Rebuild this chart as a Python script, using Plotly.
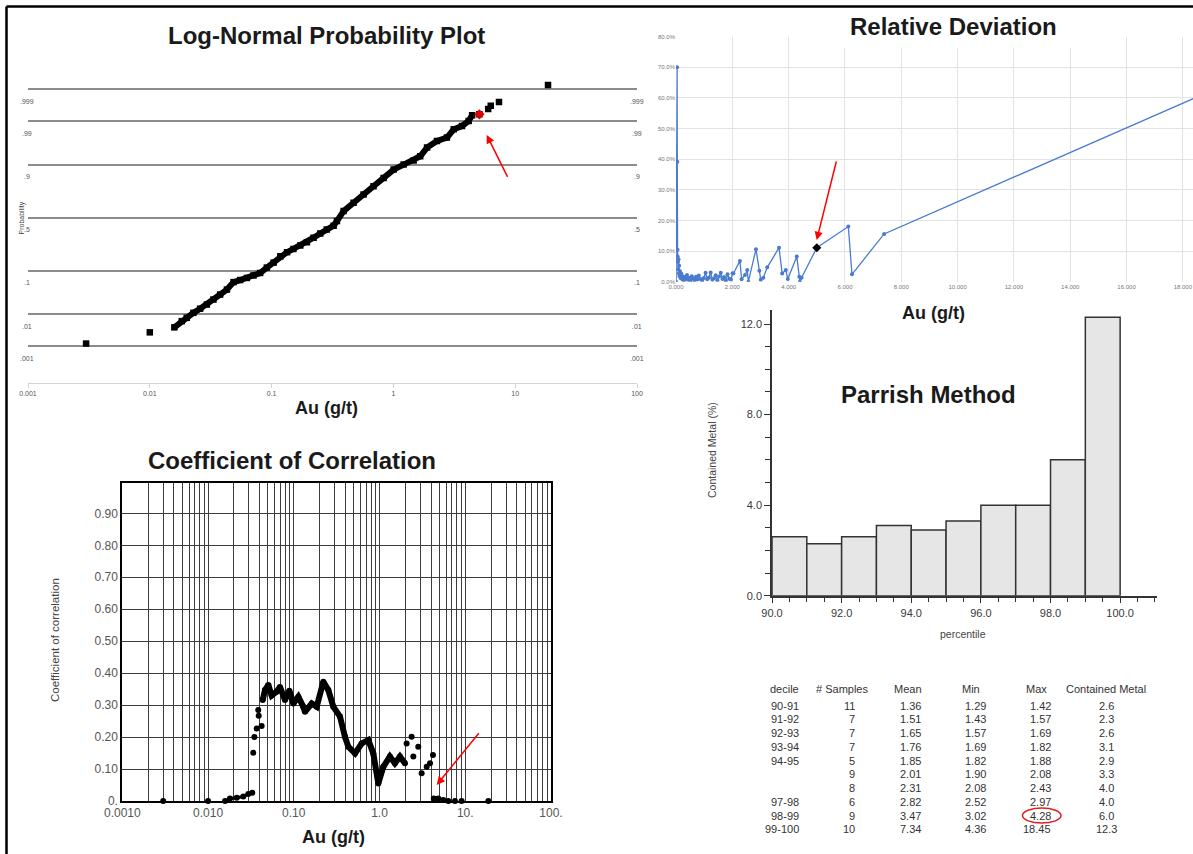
import plotly.graph_objects as go
from statistics import NormalDist

W, H = 1193, 854
FONT = "Liberation Sans, Arial, sans-serif"

# ---------------- Log-normal probability plot ----------------
ln_au = [0.0030, 0.0100, 0.0159, 0.0183, 0.0201, 0.0228, 0.0259, 0.0294, 0.0333, 0.0378,
         0.0430, 0.0487, 0.0552, 0.0627, 0.0710, 0.0805, 0.0914, 0.104, 0.118, 0.134,
         0.151, 0.172, 0.195, 0.221, 0.251, 0.284, 0.323, 0.344, 0.390, 0.471,
         0.569, 0.687, 0.831, 1.005, 1.214, 1.466, 1.66, 1.89, 2.28, 2.75,
         3.13, 3.66, 4.15, 4.43, 5.08, 6.0, 6.3, 7.36, 18.6]
ln_score = [-3.03, -2.76, -2.64, -2.49, -2.41, -2.29, -2.19, -2.09, -1.97, -1.85,
            -1.73, -1.55, -1.50, -1.45, -1.39, -1.33, -1.20, -1.08, -0.93, -0.83,
            -0.75, -0.67, -0.59, -0.48, -0.38, -0.28, -0.19, -0.08, 0.16, 0.36,
            0.56, 0.76, 0.96, 1.16, 1.28, 1.38, 1.48, 1.69, 1.85, 1.93,
            2.13, 2.21, 2.33, 2.47, 2.49, 2.62, 2.70, 2.79, 3.20]
ln_cut_index = 44
prob_levels = [0.001, 0.01, 0.1, 0.5, 0.9, 0.99, 0.999]
prob_labels = [".001", ".01", ".1", ".5", ".9", ".99", ".999"]
ln_x_ticks = [0.001, 0.01, 0.1, 1, 10, 100]
ln_x_labels = ["0.001", "0.01", "0.1", "1", "10", "100"]

# ---------------- Relative deviation ----------------
rd_au = [0.003, 0.040, 0.046, 0.055, 0.06, 0.07, 0.08, 0.09, 0.10, 0.11,
         0.12, 0.14, 0.16, 0.19, 0.22, 0.25, 0.28, 0.31, 0.35, 0.39,
         0.43, 0.47, 0.51, 0.56, 0.61, 0.66, 0.71, 0.76, 0.81, 0.87,
         0.93, 0.99, 1.05, 1.11, 1.17, 1.23, 1.29, 1.35, 1.41, 1.47,
         1.53, 1.59, 1.65, 1.71, 1.77, 1.83, 1.89, 1.95, 2.01, 2.04,
         2.27, 2.33, 2.45, 2.53, 2.57, 2.84, 2.96, 3.01, 3.10, 3.24,
         3.66, 3.77, 3.90, 3.97, 4.29, 4.38, 4.40, 4.46, 5.00, 6.12,
         6.25, 7.39, 18.45]
rd_pct = [0.0, 70.0, 39.2, 10.4, 8.2, 6.5, 4.1, 7.3, 2.8, 5.2,
          1.9, 3.4, 1.2, 2.6, 0.8, 1.7, 0.4, 1.5, 0.9, 2.2,
          0.6, 1.3, 0.3, 1.8, 1.0, 0.5, 1.6, 0.7, 2.0, 0.9,
          0.4, 1.2, 2.9, 0.8, 1.4, 3.0, 0.6, 1.1, 2.1, 0.5,
          1.7, 2.9, 0.9, 1.5, 0.4, 2.4, 1.0, 0.7, 2.8, 2.7,
          6.8, 0.8, 2.2, 3.8, 0.0, 10.6, 3.6, 0.6, 1.3, 4.7,
          11.1, 2.7, 3.8, 0.9, 8.2, 1.6, 0.0, 1.3, 11.1, 18.0,
          2.4, 15.6, 60.1]
rd_cut_index = 68
rd_x_ticks = [0, 2, 4, 6, 8, 10, 12, 14, 16, 18]
rd_x_labels = ["0.000", "2.000", "4.000", "6.000", "8.000", "10.000",
               "12.000", "14.000", "16.000", "18.000"]
rd_y_ticks = [0, 10, 20, 30, 40, 50, 60, 70, 80]
rd_y_labels = ["0.0%", "10.0%", "20.0%", "30.0%", "40.0%", "50.0%", "60.0%", "70.0%", "80.0%"]

# ---------------- Parrish decile table ----------------
decile = ["90-91", "91-92", "92-93", "93-94", "94-95", "", "", "97-98", "98-99", "99-100"]
bin_start = [90, 91, 92, 93, 94, 95, 96, 97, 98, 99]
n_samples = [11, 7, 7, 7, 5, 9, 8, 6, 9, 10]
grade_mean = [1.36, 1.51, 1.65, 1.76, 1.85, 2.01, 2.31, 2.82, 3.47, 7.34]
grade_min = [1.29, 1.43, 1.57, 1.69, 1.82, 1.90, 2.08, 2.52, 3.02, 4.36]
grade_max = [1.42, 1.57, 1.69, 1.82, 1.88, 2.08, 2.43, 2.97, 4.28, 18.45]
contained_metal = [2.6, 2.3, 2.6, 3.1, 2.9, 3.3, 4.0, 4.0, 6.0, 12.3]
cap_row = 8

# ---------------- Coefficient of correlation ----------------
cc_au = [0.0030, 0.0100, 0.0158, 0.0180, 0.0216, 0.0258, 0.0295, 0.0328, 0.0337, 0.0347,
         0.0369, 0.0385, 0.0390, 0.0422, 0.0434, 0.0461, 0.0505, 0.0552, 0.0630, 0.0690,
         0.0789, 0.0887, 0.0989, 0.113, 0.129, 0.135, 0.162, 0.185, 0.221, 0.253,
         0.289, 0.346, 0.395, 0.432, 0.518, 0.619, 0.740, 0.846, 0.968, 1.107,
         1.32, 1.51, 1.73, 1.98, 2.07, 2.37, 2.48, 2.83, 3.10, 3.55,
         3.88, 4.20, 4.30, 4.85, 5.55, 6.34, 7.58, 9.07, 18.6]
cc_r = [0.0, 0.0, 0.0, 0.008, 0.010, 0.014, 0.022, 0.026, 0.151, 0.200,
        0.227, 0.285, 0.267, 0.235, 0.316, 0.347, 0.363, 0.330, 0.342, 0.357,
        0.316, 0.345, 0.305, 0.326, 0.295, 0.279, 0.305, 0.295, 0.373, 0.347,
        0.295, 0.264, 0.201, 0.170, 0.149, 0.180, 0.191, 0.149, 0.055, 0.107,
        0.139, 0.118, 0.139, 0.118, 0.180, 0.201, 0.139, 0.170, 0.087, 0.107,
        0.118, 0.144, 0.008, 0.008, 0.003, 0.0, 0.0, 0.0, 0.0]
cc_y_ticks = [0, 0.1, 0.2, 0.3, 0.4, 0.5, 0.6, 0.7, 0.8, 0.9]
cc_y_labels = ["0.", "0.10", "0.20", "0.30", "0.40", "0.50", "0.60", "0.70", "0.80", "0.90"]
cc_decades = [0.001, 0.01, 0.1, 1, 10, 100]
cc_decade_labels = ["0.0010", "0.010", "0.10", "1.0", "10.", "100."]


def fx(px):
    return px / W


def fy(py):
    return 1 - py / H


def ann(text, px, py, size, color="#1a1a1a", xanchor="center", yanchor="middle", **kw):
    return dict(text=text, x=fx(px), y=fy(py), xref="paper", yref="paper",
                showarrow=False, xanchor=xanchor, yanchor=yanchor,
                font=dict(family=FONT, size=size, color=color), **kw)


def arrow(head, tail, color="red"):
    return dict(text="", x=fx(head[0]), y=fy(head[1]), xref="paper", yref="paper",
                ax=tail[0] - head[0], ay=tail[1] - head[1], showarrow=True,
                arrowhead=2, arrowsize=1.1, arrowwidth=1.5, arrowcolor=color)


fig = go.Figure()

# Log-normal: thick band through the dense run, then every sample as a square
fig.add_trace(go.Scatter(x=ln_au[2:ln_cut_index], y=ln_score[2:ln_cut_index], mode="lines",
                         line=dict(color="black", width=6), xaxis="x", yaxis="y"))
fig.add_trace(go.Scatter(x=ln_au, y=ln_score, mode="markers",
                         marker=dict(symbol="square", size=6.5, color="black"),
                         xaxis="x", yaxis="y"))
fig.add_trace(go.Scatter(x=[ln_au[ln_cut_index]], y=[ln_score[ln_cut_index]], mode="markers",
                         marker=dict(symbol="diamond", size=8, color="#e00000"),
                         xaxis="x", yaxis="y"))

# Relative deviation line
fig.add_trace(go.Scatter(x=rd_au, y=rd_pct, mode="lines+markers",
                         line=dict(color="#4a7bd0", width=1.3),
                         marker=dict(size=4, color="#4a7bd0"),
                         xaxis="x2", yaxis="y2"))
fig.add_trace(go.Scatter(x=[rd_au[rd_cut_index]], y=[rd_pct[rd_cut_index]], mode="markers",
                         marker=dict(symbol="diamond", size=7, color="black"),
                         xaxis="x2", yaxis="y2"))

# Parrish histogram
fig.add_trace(go.Bar(x=[b + 0.5 for b in bin_start], y=contained_metal, width=1.0,
                     marker=dict(color="#e6e6e6", line=dict(color="#333333", width=1.5)),
                     xaxis="x3", yaxis="y3"))

# Coefficient of correlation
fig.add_trace(go.Scatter(x=cc_au[14:44], y=cc_r[14:44], mode="lines",
                         line=dict(color="black", width=6), xaxis="x4", yaxis="y4"))
fig.add_trace(go.Scatter(x=cc_au[2:8], y=cc_r[2:8], mode="lines",
                         line=dict(color="black", width=3), xaxis="x4", yaxis="y4"))
fig.add_trace(go.Scatter(x=cc_au, y=cc_r, mode="markers",
                         marker=dict(size=6, color="black"), cliponaxis=False,
                         xaxis="x4", yaxis="y4"))

prob_scores = [NormalDist().inv_cdf(p) for p in prob_levels]

# Log grid for the correlation panel: every 1..9 multiple, labels on decades only
cc_grid, cc_grid_text = [], []
for d_i, d in enumerate(cc_decades[:-1]):
    for k in range(1, 10):
        cc_grid.append(d * k)
        cc_grid_text.append(cc_decade_labels[d_i] if k == 1 else "")
cc_grid.append(cc_decades[-1])
cc_grid_text.append(cc_decade_labels[-1])

tick_font_small = dict(family=FONT, size=7, color="#555555")

fig.update_layout(
    width=W, height=H, margin=dict(l=0, r=0, t=0, b=0, autoexpand=False),
    paper_bgcolor="white", plot_bgcolor="white", showlegend=False,
    # Log-normal axes
    xaxis=dict(domain=[fx(28), fx(637)], type="log", range=[-3, 2],
               tickvals=ln_x_ticks, ticktext=ln_x_labels, showgrid=False, zeroline=False,
               showline=True, linecolor="#d4d4d4", linewidth=1, ticks="outside",
               ticklen=4, tickcolor="#d4d4d4", tickfont=tick_font_small, anchor="y",
               automargin=False),
    yaxis=dict(domain=[fy(383), fy(52.5)], range=[-3.98, 3.98], tickvals=prob_scores,
               showticklabels=False, showgrid=True, gridcolor="#8c8c8c", gridwidth=1.5,
               zeroline=False, showline=False, anchor="x", automargin=False),
    # Relative deviation axes
    xaxis2=dict(domain=[fx(676), 1.0], range=[0, 18.36], tickvals=rd_x_ticks,
                ticktext=rd_x_labels, showgrid=True, gridcolor="#e3e3e3", gridwidth=1,
                zeroline=False, showline=False, ticks="",
                tickfont=dict(family=FONT, size=6, color="#777777"), anchor="y2",
                automargin=False),
    yaxis2=dict(domain=[fy(281.7), fy(36.7)], range=[0, 80], tickvals=rd_y_ticks,
                ticktext=rd_y_labels, showgrid=True, gridcolor="#e3e3e3", gridwidth=1,
                zeroline=False, showline=False, ticks="",
                tickfont=dict(family=FONT, size=6, color="#777777"), anchor="x2",
                automargin=False),
    # Parrish axes
    xaxis3=dict(domain=[fx(772), fx(1156.7)], range=[90, 101.05], tickvals=[90, 92, 94, 96, 98, 100],
                ticktext=["90.0", "92.0", "94.0", "96.0", "98.0", "100.0"], showgrid=False,
                zeroline=False, showline=True, linecolor="#333333", linewidth=1.5,
                ticks="outside", ticklen=6, tickcolor="#333333",
                minor=dict(tickvals=[v / 2 for v in range(181, 203)], ticks="outside",
                           ticklen=5, tickcolor="#333333"),
                tickfont=dict(family=FONT, size=11, color="#3a3a3a"), anchor="y3",
                automargin=False),
    yaxis3=dict(domain=[fy(595.7), fy(310)], range=[0, 12.62], tickvals=[0, 4, 8, 12],
                ticktext=["0.0", "4.0", "8.0", "12.0"], showgrid=False, zeroline=False,
                showline=True, linecolor="#333333", linewidth=1.5, ticks="outside",
                ticklen=6, tickcolor="#333333",
                minor=dict(tickvals=[1, 2, 3, 5, 6, 7, 9, 10, 11], ticks="outside",
                           ticklen=5, tickcolor="#333333"),
                tickfont=dict(family=FONT, size=11, color="#3a3a3a"), anchor="x3",
                automargin=False),
    # Coefficient of correlation axes
    xaxis4=dict(domain=[fx(122.3), fx(551)], type="log", range=[-3, 2], tickvals=cc_grid,
                ticktext=cc_grid_text, showgrid=True, gridcolor="#3c3c3c", gridwidth=1,
                zeroline=False, showline=True, mirror=True, linecolor="black", linewidth=2,
                ticks="", tickfont=dict(family=FONT, size=12, color="#555555"), anchor="y4",
                automargin=False),
    yaxis4=dict(domain=[fy(801), fy(483.3)], range=[0, 0.994], tickvals=cc_y_ticks,
                ticktext=cc_y_labels, showgrid=True, gridcolor="#3c3c3c", gridwidth=1,
                zeroline=False, showline=True, mirror=True, linecolor="black", linewidth=2,
                ticks="", tickfont=dict(family=FONT, size=12, color="#555555"), anchor="x4",
                automargin=False),
)

annotations = []
# Panel titles and axis titles
annotations.append(ann("<b>Log-Normal Probability Plot</b>", 326, 35, 24))
annotations.append(ann("<b>Au (g/t)</b>", 326, 408, 18))
annotations.append(ann("Probability", 21.5, 218, 7, color="#444444", textangle=-90))
annotations.append(ann("<b>Relative Deviation</b>", 953, 26, 24))
annotations.append(ann("<b>Au (g/t)</b>", 933, 313, 18))
annotations.append(ann("<b>Parrish Method</b>", 928, 395, 24))
annotations.append(ann("Contained Metal (%)", 712, 450, 10.5, color="#444444", textangle=-90))
annotations.append(ann("percentile", 963, 634, 10.5, color="#444444"))
annotations.append(ann("<b>Coefficient of Correlation</b>", 292, 460, 24))
annotations.append(ann("<b>Au (g/t)</b>", 333, 837, 18))
annotations.append(ann("Coefficient of correlation", 55, 640, 11.5, color="#444444", textangle=-90))

# Probability labels sit just below each grid line, at both ends
for score, label in zip(prob_scores, prob_labels):
    for xpos in (27, 637):
        annotations.append(dict(text=label, x=fx(xpos), y=score, xref="paper", yref="y",
                                yshift=-12, showarrow=False, xanchor="center",
                                yanchor="middle", font=dict(family=FONT, size=7, color="#555555")))

# Decile table
table_color = "#333333"
header_y = 689
row_y0, row_dy = 705.7, 13.73
annotations.append(ann("decile", 801, header_y, 11, table_color, xanchor="right"))
annotations.append(ann("# Samples", 841.5, header_y, 11, table_color))
annotations.append(ann("Mean", 908, header_y, 11, table_color))
annotations.append(ann("Min", 971, header_y, 11, table_color))
annotations.append(ann("Max", 1036.7, header_y, 11, table_color))
annotations.append(ann("Contained Metal", 1106, header_y, 11, table_color))
for i in range(len(n_samples)):
    yy = row_y0 + i * row_dy
    if decile[i]:
        annotations.append(ann(decile[i], 801, yy, 11, table_color, xanchor="right"))
    annotations.append(ann(str(n_samples[i]), 857, yy, 11, table_color, xanchor="right"))
    annotations.append(ann(f"{grade_mean[i]:.2f}", 922.7, yy, 11, table_color, xanchor="right"))
    annotations.append(ann(f"{grade_min[i]:.2f}", 987.7, yy, 11, table_color, xanchor="right"))
    annotations.append(ann(f"{grade_max[i]:.2f}", 1052.7, yy, 11, table_color, xanchor="right"))
    annotations.append(ann(f"{contained_metal[i]:.1f}", 1106.7, yy, 11, table_color))

# Red pointers at the chosen cap
annotations.append(arrow((486.7, 135), (508.3, 178.3)))
annotations.append(arrow((816.7, 240), (836.7, 160)))
annotations.append(arrow((436.7, 785), (480, 731.7)))

fig.update_layout(annotations=annotations)

cap_y = row_y0 + cap_row * row_dy
shapes = [
    # white band behind the Relative Deviation heading
    dict(type="rect", xref="paper", yref="paper", x0=fx(823), x1=fx(1088), y0=fy(48), y1=fy(9),
         fillcolor="white", line=dict(width=0), layer="above"),
    # ring around the capped maximum
    dict(type="circle", xref="paper", yref="paper", x0=fx(1022.5), x1=fx(1061),
         y0=fy(cap_y + 7.5), y1=fy(cap_y - 7.5), line=dict(color="#e02020", width=1.5)),
    # frame lines
    dict(type="line", xref="paper", yref="paper", x0=fx(6.5), x1=1.0, y0=fy(6.5), y1=fy(6.5),
         line=dict(color="black", width=2.5)),
    dict(type="line", xref="paper", yref="paper", x0=fx(6.5), x1=fx(6.5), y0=fy(6.5), y1=0,
         line=dict(color="black", width=2.5)),
]
fig.update_layout(shapes=shapes)

fig.write_html("out.html")
